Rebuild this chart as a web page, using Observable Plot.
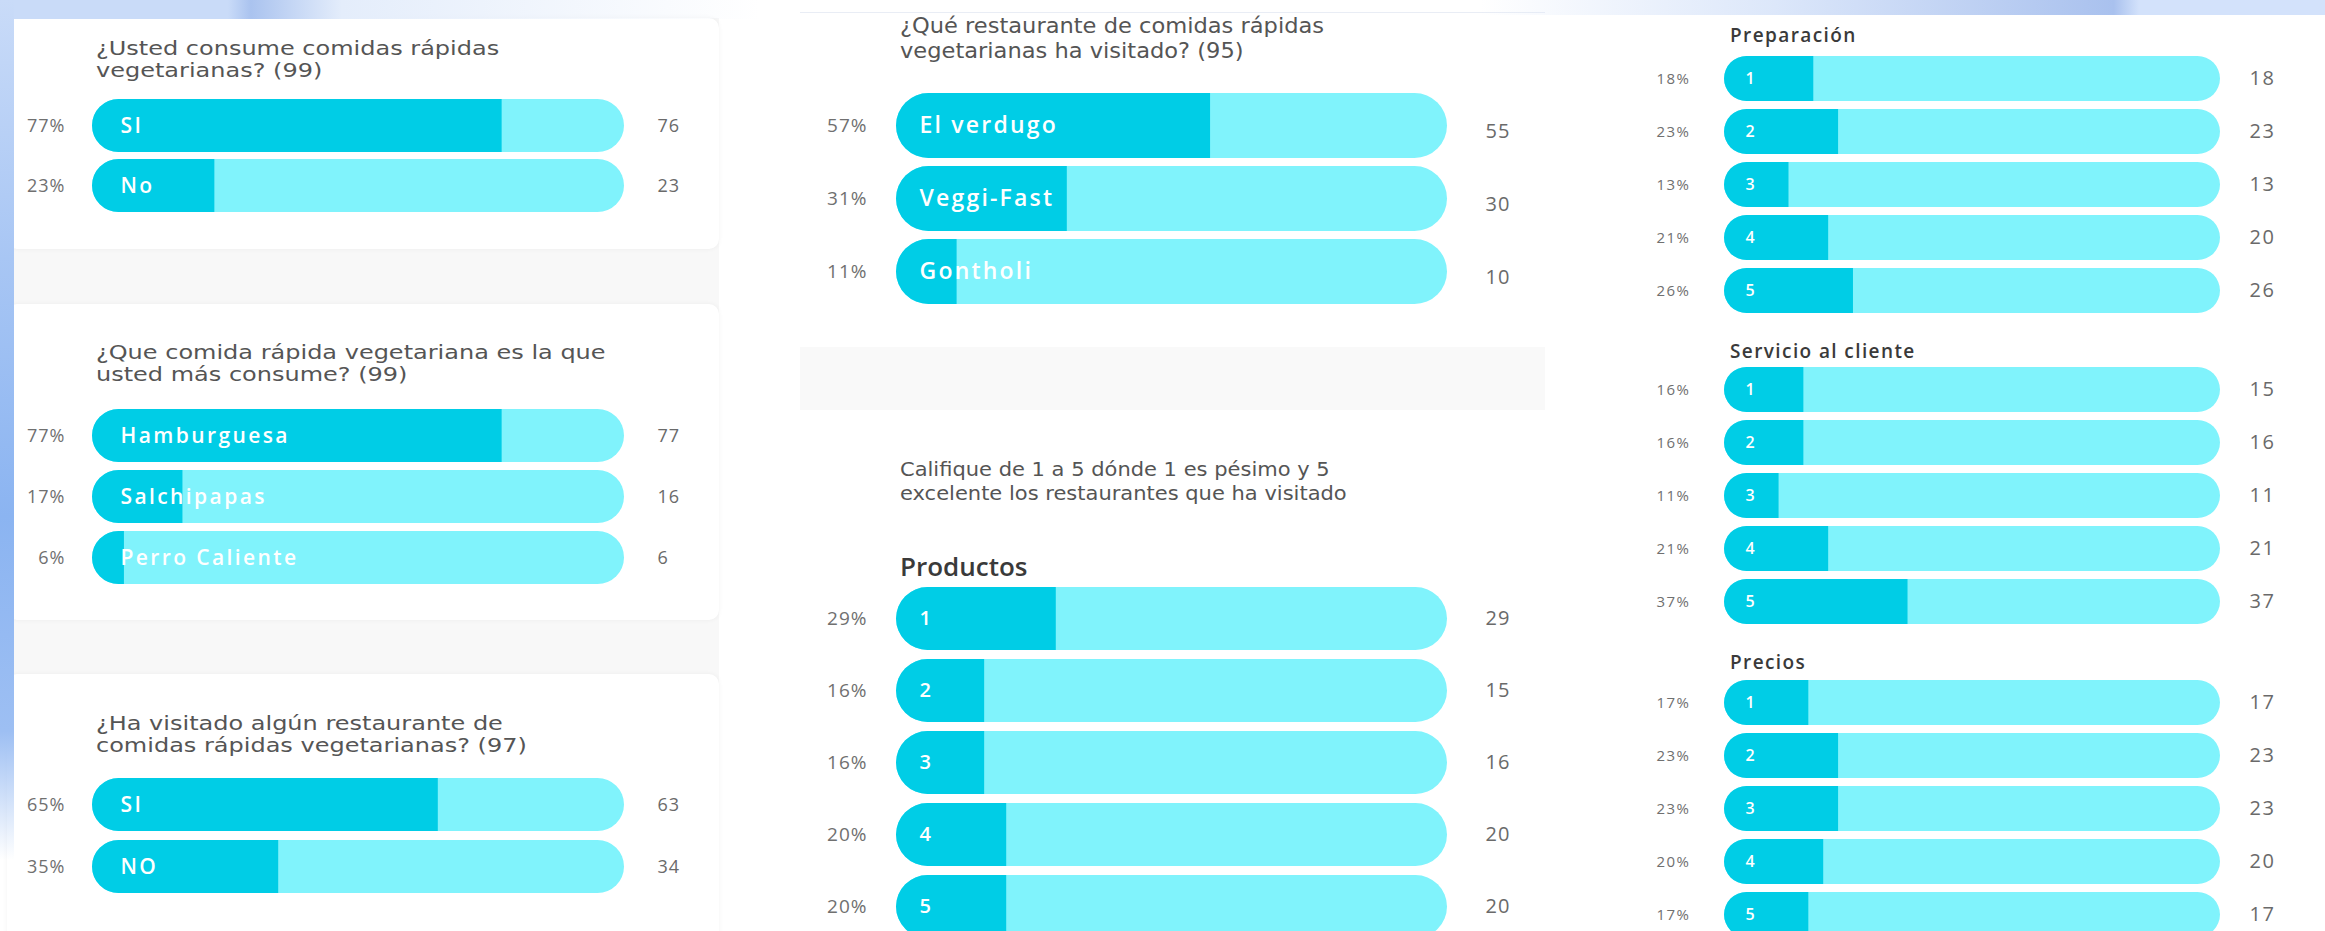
<!DOCTYPE html>
<html><head><meta charset="utf-8">
<script src="https://cdn.jsdelivr.net/npm/d3@7"></script>
<script src="https://cdn.jsdelivr.net/npm/@observablehq/plot@0.6"></script>
<style>
html,body{margin:0;padding:0;width:2325px;height:931px;overflow:hidden;background:#fff;font-family:"Open Sans",sans-serif;position:relative}
.bg{position:absolute}
.card{position:absolute;background:#fff;border-radius:10px;box-shadow:0 0 5px rgba(0,0,0,0.05)}
.title{position:absolute;color:#555;font-family:"DejaVu Sans",sans-serif;white-space:nowrap;transform-origin:0 0}
.head{position:absolute;color:#3a3a3a;font-weight:600;white-space:nowrap}
</style></head>
<body>
<script>
// ---------- data ----------
const q1Labels = ["SI", "No"];
const q1Pct = [77, 23];
const q1Count = [76, 23];

const q2Labels = ["Hamburguesa", "Salchipapas", "Perro Caliente"];
const q2Pct = [77, 17, 6];
const q2Count = [77, 16, 6];

const q3Labels = ["SI", "NO"];
const q3Pct = [65, 35];
const q3Count = [63, 34];

const q4Labels = ["El verdugo", "Veggi-Fast", "Gontholi"];
const q4Pct = [57, 31, 11];
const q4Count = [55, 30, 10];

const ratingLabels = ["1", "2", "3", "4", "5"];
const productosPct = [29, 16, 16, 20, 20];
const productosCount = [29, 15, 16, 20, 20];
const preparacionPct = [18, 23, 13, 21, 26];
const preparacionCount = [18, 23, 13, 20, 26];
const servicioPct = [16, 16, 11, 21, 37];
const servicioCount = [15, 16, 11, 21, 37];
const preciosPct = [17, 23, 23, 20, 17];
const preciosCount = [17, 23, 23, 20, 17];

// ---------- styling ----------
const DARK = "#00cde6", LIGHT = "#80f3fc";
const NS = "http://www.w3.org/2000/svg";
let clipN = 0;

function div(cls, x, y, w, h, css) {
  const d = document.createElement("div");
  d.className = cls;
  d.style.left = x + "px"; d.style.top = y + "px";
  if (w != null) d.style.width = w + "px";
  if (h != null) d.style.height = h + "px";
  if (css) d.style.cssText += css;
  document.body.appendChild(d);
  return d;
}
function text(cls, x, y, lines, lh, css) {
  lines.forEach((s, i) => {
    const d = div(cls, x, y + i * lh, null, lh, `line-height:${lh}px;` + (css || ""));
    d.textContent = s;
  });
}

function barChart(o) {
  const data = o.labels.map((l, i) => ({label: l, pct: o.pct[i], count: o.count[i]}));
  const n = data.length, step = o.barH + o.gap;
  const height = n * o.barH + (n - 1) * o.gap, r = o.barH / 2;
  const width = o.marginLeft + o.barW + o.marginRight;
  const svg = Plot.plot({
    width, height,
    marginLeft: o.marginLeft, marginRight: o.marginRight, marginTop: 0, marginBottom: 0,
    x: {domain: [0, 100], axis: null},
    y: {domain: o.labels, axis: null, paddingInner: o.gap / step, paddingOuter: 0},
    style: {background: "transparent", overflow: "visible", fontFamily: "'Open Sans', sans-serif"},
    marks: [
      Plot.barX(data, {x1: 0, x2: 100, y: "label", fill: LIGHT, rx: r, ry: r}),
      Plot.barX(data, {x1: 0, x2: "pct", y: "label", fill: DARK}),
      Plot.text(data, {x: 0, y: "label", text: "label", dx: o.labelDx, textAnchor: "start",
        fill: "#ffffff", fontSize: o.labelSize, fontWeight: 600}),
      Plot.text(data, {x: 0, y: "label", text: d => d.pct + "%", dx: o.pctDx, textAnchor: "end",
        fill: "#707070", fontSize: o.pctSize}),
      Plot.text(data, {x: 100, y: "label", text: d => String(d.count), dx: o.valDx, dy: o.valDy || 0,
        textAnchor: "start", fill: "#6a6a6a", fontSize: o.valSize})
    ]
  });
  // clip the dark fill to the rounded track shape
  const bars = svg.querySelectorAll('g[aria-label="bar"]');
  const track = bars[0], fill = bars[1];
  if (track && fill) {
    const id = "trackclip" + (clipN++);
    const defs = document.createElementNS(NS, "defs");
    const cp = document.createElementNS(NS, "clipPath");
    cp.setAttribute("id", id);
    track.querySelectorAll("rect").forEach(rc => {
      const c = rc.cloneNode(false);
      c.setAttribute("rx", r); c.setAttribute("ry", r);
      cp.appendChild(c);
    });
    defs.appendChild(cp);
    svg.insertBefore(defs, svg.firstChild);
    fill.setAttribute("clip-path", `url(#${id})`);
  }
  const texts = svg.querySelectorAll('g[aria-label="text"]');
  if (texts[0]) texts[0].style.letterSpacing = (o.labelLs || 0) + "px";
  if (texts[1]) texts[1].style.letterSpacing = (o.numLs || 0) + "px";
  if (texts[2]) texts[2].style.letterSpacing = (o.numLs || 0) + "px";
  const holder = div("bg", o.left - o.marginLeft, o.top, width, height);
  holder.appendChild(svg);
}

// ---------- background ----------
div("bg", 0, 0, 2325, 931, "background:#fff");
// left column grey backdrop + cards
div("bg", 7, 18, 712, 913, "background:#f8f8f8");
div("card", 7, 18, 712, 231);
div("card", 7, 304, 712, 316);
div("card", 7, 674, 712, 280);
// middle column
div("bg", 800, 12, 745, 919, "background:#fff;border-top:1px solid #e9edf5");
div("bg", 800, 347, 745, 63, "background:#f9f9f9");
// top bands
div("bg", 0, 0, 760, 19, "background:linear-gradient(90deg,#c9dbf8 0%,#c9dbf8 30%,#aac3ef 33%,#e4edfb 45%,rgba(255,255,255,0) 100%)");
div("bg", 1480, 0, 845, 15, "background:linear-gradient(90deg,rgba(255,255,255,0) 0%,#dce7fa 35%,#a9c1ee 75%,#d3e2fb 78%,#d3e2fb 100%)");
// left strip
div("bg", 0, 0, 14, 860, "background:linear-gradient(180deg,#c9dbf8 0%,#a8c6f4 30%,#8bb4f1 60%,#9dbff3 85%,rgba(255,255,255,0) 100%)");

// ---------- titles ----------
const leftT = "font-size:18.9px;transform:scaleX(1.27)";
text("title", 96, 37, ["¿Usted consume comidas rápidas", "vegetarianas? (99)"], 22, leftT);
text("title", 96, 341, ["¿Que comida rápida vegetariana es la que", "usted más consume? (99)"], 22, leftT);
text("title", 96, 712, ["¿Ha visitado algún restaurante de", "comidas rápidas vegetarianas? (97)"], 22, leftT);
text("title", 900, 14, ["¿Qué restaurante de comidas rápidas", "vegetarianas ha visitado? (95)"], 25, "font-size:20.5px;transform:scaleX(1.1)");
text("title", 900, 457, ["Califique de 1 a 5 dónde 1 es pésimo y 5", "excelente los restaurantes que ha visitado"], 24, "font-size:20px;transform:scaleX(1.05)");
text("head", 900, 551, ["Productos"], 31, "font-size:26px");
const headR = "font-size:19px;letter-spacing:1.4px";
text("head", 1730, 24, ["Preparación"], 23, headR);
text("head", 1730, 340, ["Servicio al cliente"], 23, headR);
text("head", 1730, 651, ["Precios"], 23, headR);

// ---------- charts ----------
const leftCfg = {left: 92, barW: 532, marginLeft: 85, marginRight: 90, barH: 53,
  labelDx: 28, labelSize: 21, labelLs: 2.4, pctDx: -27, pctSize: 18, valDx: 33, valSize: 18, numLs: 1};
barChart({...leftCfg, top: 99, gap: 7, labels: q1Labels, pct: q1Pct, count: q1Count});
barChart({...leftCfg, top: 408, gap: 8.5, labels: q2Labels, pct: q2Pct, count: q2Count});
barChart({...leftCfg, top: 778, gap: 9, labels: q3Labels, pct: q3Pct, count: q3Count});

const midCfg = {left: 896, barW: 551, marginLeft: 90, marginRight: 90,
  labelDx: 23, labelSize: 23, labelLs: 2.2, pctDx: -29, pctSize: 19, valDx: 38, valSize: 20, numLs: 1};
barChart({...midCfg, top: 93, barH: 65, gap: 8, valDy: 6, labels: q4Labels, pct: q4Pct, count: q4Count});
barChart({...midCfg, top: 586, barH: 63, gap: 9.5, labelSize: 20, labelLs: 0, labels: ratingLabels, pct: productosPct, count: productosCount});

const rightCfg = {left: 1724, barW: 496, marginLeft: 90, marginRight: 80, barH: 45, gap: 8.3,
  labelDx: 21, labelSize: 16, labelLs: 0, pctDx: -34, pctSize: 15, valDx: 29, valSize: 20, numLs: 1.5};
barChart({...rightCfg, top: 55, labels: ratingLabels, pct: preparacionPct, count: preparacionCount});
barChart({...rightCfg, top: 366, labels: ratingLabels, pct: servicioPct, count: servicioCount});
barChart({...rightCfg, top: 679, labels: ratingLabels, pct: preciosPct, count: preciosCount});
</script>
</body></html>
